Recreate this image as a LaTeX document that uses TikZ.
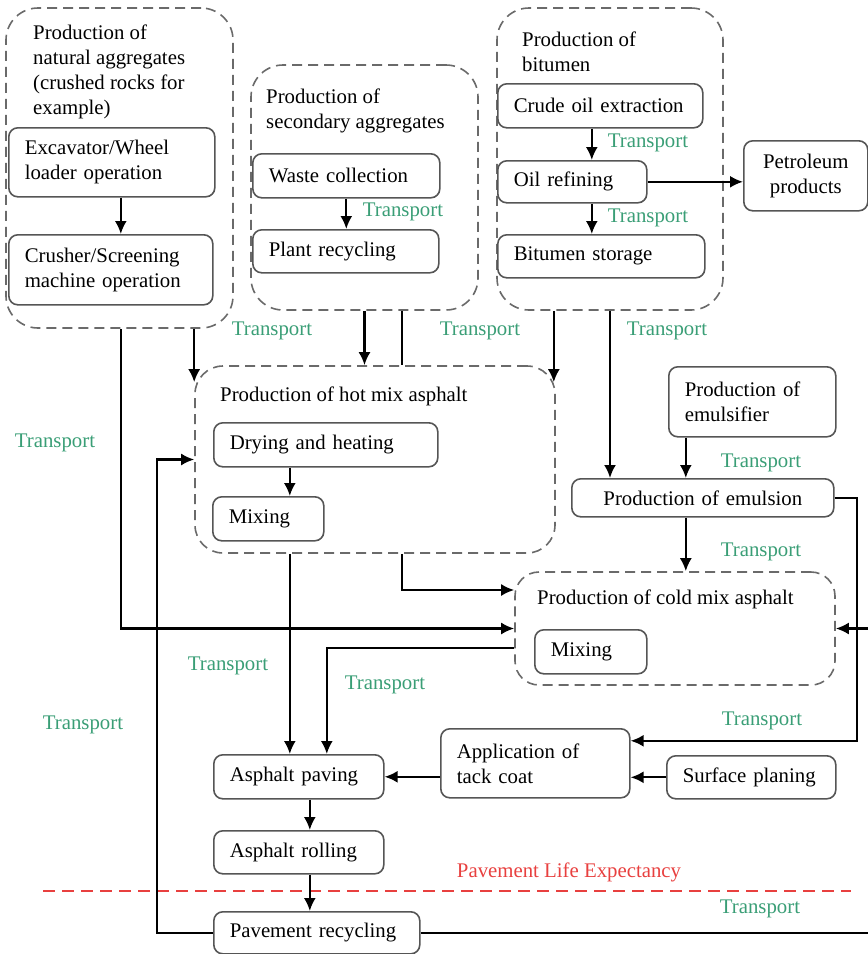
\documentclass[tikz,border=0pt]{standalone}
\usepackage{fontspec}
\setmainfont{Liberation Serif}
\usetikzlibrary{arrows.meta, fit}

\definecolor{boxgray}{HTML}{555555}
\definecolor{dashgray}{HTML}{6A6A6A}
\definecolor{transgreen}{HTML}{3A9E76}
\definecolor{lifered}{HTML}{E8403F}

% name, x, y (top left), width, height, align, text
\newcommand{\StepNode}[7]{
    \pgfmathsetmacro{\stepTW}{#4-32}
    \node[stepbox, align=#6, text width=\stepTW pt, minimum height=#5pt] (#1) at (#2,#3) {#7};
}
% name, corner radius, x1, y1, x2, y2
\newcommand{\GroupNode}[6]{
    \node[groupbox, rounded corners=#2pt, fit={(#3,#4) (#5,#6)}] (#1) {};
}

\begin{document}
\begin{tikzpicture}[x=1pt, y=-1pt,
        font=\fontsize{20.8}{25}\selectfont,
        stepbox/.style={draw=boxgray, line width=1.6pt, rounded corners=9pt, anchor=north west, inner xsep=16pt, inner ysep=2pt},
        groupbox/.style={draw=dashgray, line width=1.6pt, dash pattern=on 10pt off 6pt, inner sep=0pt},
        grouptitle/.style={anchor=north west, align=left, inner sep=0pt},
        transport/.style={text=transgreen, inner sep=0pt},
        flow/.style={line width=2.2pt, -{Latex[length=13pt, width=12pt]}},
        link/.style={line width=2.2pt},
        lifeline/.style={lifered, line width=1.8pt, dash pattern=on 12pt off 7pt}
    ]
  \useasboundingbox (0,0) rectangle (868,954);
  \coordinate (edge) at (868,954);

  %%% Dashed groups
  \GroupNode{natGrp}{32}{6}{8}{233}{328}
  \GroupNode{secGrp}{32}{251}{65}{478}{310}
  \GroupNode{bitGrp}{32}{497}{8}{723}{310}
  \GroupNode{hotGrp}{28}{195}{366}{555}{553}
  \GroupNode{coldGrp}{24}{515}{572}{835}{685}
  \node[grouptitle] (natTitle) at (33,25) {Production of\\natural aggregates\\(crushed rocks for\\example)};
  \node[grouptitle] (secTitle) at (266,89) {Production of\\secondary aggregates};
  \node[grouptitle] (bitTitle) at (522,32) {Production of\\bitumen};
  \node[grouptitle] (hotTitle) at (220,387) {Production of hot mix asphalt};
  \node[grouptitle] (coldTitle) at (537,590) {Production of cold mix asphalt};

  %%% Steps
  \StepNode{excav}{8}{127}{206}{69}{left}{Excavator/Wheel\\loader operation}
  \StepNode{crush}{8}{234}{204}{70}{left}{Crusher/Screening\\machine operation}
  \StepNode{waste}{252}{153}{187}{44}{left}{Waste collection}
  \StepNode{plant}{252}{229}{186}{43}{left}{Plant recycling}
  \StepNode{crude}{497}{83}{205}{44}{left}{Crude oil extraction}
  \StepNode{refine}{497}{160}{149}{42}{left}{Oil refining}
  \StepNode{store}{497}{234}{207}{43}{left}{Bitumen storage}
  \StepNode{petrol}{743}{140}{124}{70}{center}{Petroleum\\products}
  \StepNode{dry}{213}{422}{224}{44}{left}{Drying and heating}
  \StepNode{mixhot}{212}{496}{111}{44}{left}{Mixing}
  \StepNode{emulsifier}{668}{366}{167}{70}{left}{Production of\\emulsifier}
  \StepNode{emulsion}{571}{478}{262}{38}{center}{Production of emulsion}
  \StepNode{mixcold}{534}{629}{112}{44}{left}{Mixing}
  \StepNode{tack}{440}{728}{189}{69}{left}{Application of\\tack coat}
  \StepNode{planing}{666}{755}{169}{43}{left}{Surface planing}
  \StepNode{paving}{213}{754}{170}{44}{left}{Asphalt paving}
  \StepNode{rolling}{213}{830}{170}{43}{left}{Asphalt rolling}
  \StepNode{recyc}{213}{911}{206}{42}{left}{Pavement recycling}

  %%% Transport labels
  \node[transport] (tWaste) at (403,212) {Transport};
  \node[transport] (tCrude) at (648,143) {Transport};
  \node[transport] (tRefine) at (648,218) {Transport};
  \node[transport] (tNat) at (272,331) {Transport};
  \node[transport] (tSec) at (480,331) {Transport};
  \node[transport] (tBit) at (667,331) {Transport};
  \node[transport] (tLeft) at (55,443) {Transport};
  \node[transport] (tEmulsifier) at (761,463) {Transport};
  \node[transport] (tEmulsion) at (761,552) {Transport};
  \node[transport] (tHot) at (228,666) {Transport};
  \node[transport] (tCold) at (385,685) {Transport};
  \node[transport] (tRecyc) at (83,725) {Transport};
  \node[transport] (tTack) at (762,721) {Transport};
  \node[transport] (tBottom) at (760,909) {Transport};

  %%% Life expectancy
  \node[text=lifered, inner sep=0pt] (life) at (569,872) {Pavement Life Expectancy};
  \draw[lifeline] (43,891) coordinate (lifeL) -- (851,891) coordinate (lifeR);

  %%% Inside the groups
  \draw[flow] ([xshift=9pt]excav.south) -- ([xshift=9pt]excav.south |- crush.north);
  \draw[flow] (waste.south) -- (waste.south |- plant.north);
  \draw[flow] ([xshift=-8.5pt]crude.south) -- ([xshift=-8.5pt]crude.south |- refine.north);
  \draw[flow] ([xshift=19.5pt]refine.south) -- ([xshift=19.5pt]refine.south |- store.north);
  \draw[flow] (refine.east) -- (refine.east -| petrol.west);
  \draw[flow] ([xshift=-36pt]dry.south) -- ([xshift=-36pt]dry.south |- mixhot.north);

  %%% Between the groups
  \draw[flow] ([xshift=9pt]excav.south |- natGrp.south) |- (coldGrp.west);
  \draw[flow] (natGrp.south -| hotGrp.west) -- ([yshift=-17pt]hotGrp.north west);
  \draw[flow] (secGrp.south) -- (secGrp.south |- hotGrp.north);
  \draw[link] ([xshift=37.5pt]secGrp.south) -- ([xshift=37.5pt]secGrp.south |- hotGrp.north);
  \draw[flow] ([xshift=-2pt]bitGrp.south -| hotGrp.east) -- ([xshift=-2pt, yshift=-17pt]hotGrp.north east);
  \draw[flow] (bitGrp.south) -- (bitGrp.south |- emulsion.north);
  \draw[flow] ([xshift=-66.5pt]emulsifier.south) -- ([xshift=-66.5pt]emulsifier.south |- emulsion.north);
  \draw[flow] ([xshift=-17pt]emulsion.south) -- ([xshift=-17pt]emulsion.south |- coldGrp.north);
  \draw[flow] (emulsion.east) -- ++(22,0) |- ([yshift=22.5pt]tack.east);
  \draw[flow] (coldGrp.east -| edge) -- (coldGrp.east);
  \draw[link] (recyc.east) -- (recyc.east -| edge);
  \draw[flow] (recyc.west) -- ++(-56,0) |- (hotGrp.west);
  \draw[flow] ([xshift=-9pt]paving.north |- hotGrp.south) -- ([xshift=-9pt]paving.north);
  \draw[flow] ([xshift=27pt]hotGrp.south) |- ([yshift=38.5pt]coldGrp.west);
  \draw[flow] ([yshift=-19.5pt]coldGrp.west) -| ([xshift=28pt]paving.north);
  \draw[flow] (tack.west |- paving.east) -- (paving.east);
  \draw[flow] (planing.west) -- (planing.west -| tack.east);
  \draw[flow] ([xshift=11pt]paving.south) -- ([xshift=11pt]paving.south |- rolling.north);
  \draw[flow] ([xshift=11pt]rolling.south) -- ([xshift=11pt]rolling.south |- recyc.north);
\end{tikzpicture}
\end{document}
